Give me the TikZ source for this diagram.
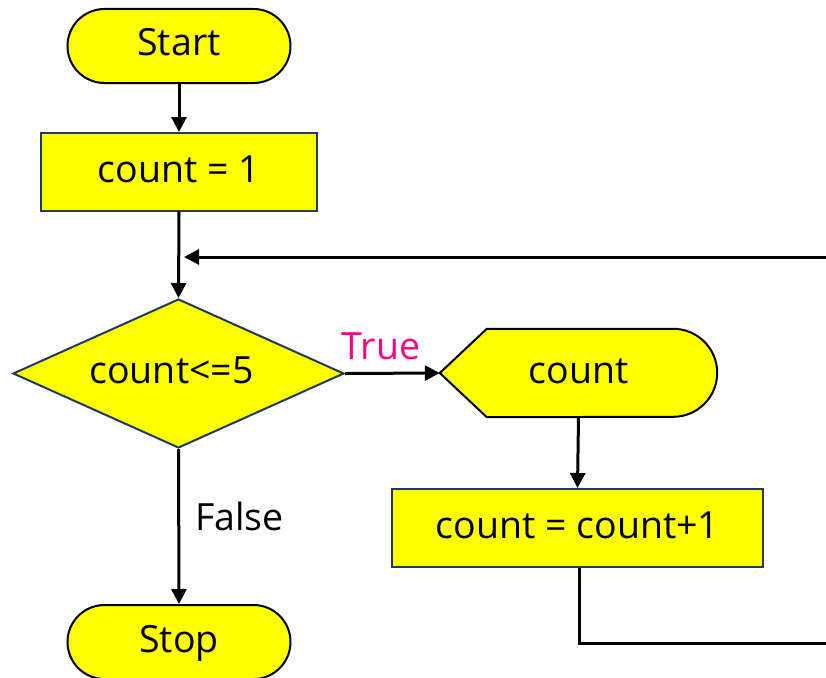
\documentclass[tikz,border=0pt]{standalone}
\usepackage{fontspec}
\setmainfont{Open Sans}
\usetikzlibrary{shapes.geometric,arrows.meta,backgrounds}
\definecolor{fillyel}{RGB}{255,255,0}
\definecolor{navy}{RGB}{32,56,100}
\definecolor{truepink}{RGB}{255,0,128}
\begin{document}
\begin{tikzpicture}[x=1pt,y=-1pt,
 every node/.style={font=\fontsize{37.5}{42}\selectfont},
 boxtext/.style={text height=28pt,text depth=8pt},
 term/.style={boxtext,draw=black,line width=2pt,fill=fillyel,rounded corners=37pt,minimum width=223pt,minimum height=74pt,inner sep=0pt},
 proc/.style={boxtext,draw=navy,line width=2pt,fill=fillyel,minimum height=78pt,inner sep=0pt},
 dec/.style={boxtext,diamond,draw=navy,line width=2pt,fill=fillyel,aspect=2.22,minimum width=331pt,minimum height=149pt,inner sep=0pt},
 dispbox/.style={boxtext,minimum width=277pt,minimum height=88pt,inner sep=0pt},
 conn/.style={line width=3pt,-{Triangle[length=15pt,width=15pt]}},
 plain/.style={line width=3pt},
 lbl/.style={inner sep=0pt}]
\useasboundingbox (0,0) rectangle (826,677);
\node[term] (start) at (179,46) {Start};
\node[proc,minimum width=276pt] (init) at (179,172) {count = 1};
\node[dec] (cond) at (178.5,373.5) {count<=5\hspace*{14pt}};
\node[dispbox] (disp) at (578.5,373) {count};
\begin{scope}[on background layer]
\filldraw[draw=black,line width=2pt,fill=fillyel]
  (disp.west) -- ([xshift=47pt]disp.north west) -- ([xshift=-44pt]disp.north east)
  arc[start angle=90,end angle=-90,radius=44pt]
  -- ([xshift=47pt]disp.south west) -- cycle;
\end{scope}
\node[proc,minimum width=371pt] (incr) at (577.5,528) {count = count+1};
\node[term] (stop) at (179,642) {Stop};
\coordinate (rin) at (826,257);
\coordinate (rout) at (826,643);
\draw[conn] (start.south) -- (init.north);
\draw[conn] (init.south) -- (cond.north);
\draw[conn,shorten >=5pt] (rin) -- (init.south |- rin);
\draw[conn] (cond.east) -- (disp.west);
\draw[conn] (cond.south) -- (stop.north);
\draw[conn] (disp.south) -- (incr.north);
\draw[plain] ([xshift=2pt]incr.south) |- (rout);
\node[lbl,text=truepink] (truelbl) at (381,346) {True};
\node[lbl,anchor=west] (falselbl) at (195,516) {False};
\end{tikzpicture}
\end{document}
